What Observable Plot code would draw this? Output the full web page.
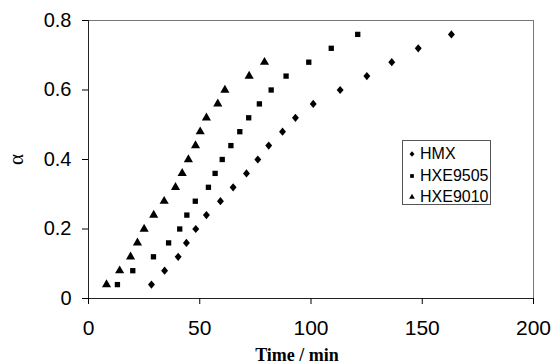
<!DOCTYPE html>
<html>
<head>
<meta charset="utf-8">
<script src="https://cdn.jsdelivr.net/npm/d3@7"></script>
<script src="https://cdn.jsdelivr.net/npm/@observablehq/plot@0.6"></script>
<style>
  html, body { margin: 0; padding: 0; background: #fff; }
  #chart { position: relative; width: 553px; height: 364px; }
  #legend {
    position: absolute; left: 402px; top: 140px; width: 89px; height: 65px;
    border: 1px solid #555; background: #fff; box-sizing: border-box;
    font-family: "Liberation Sans", Arial, sans-serif; font-size: 16px; color: #000;
  }
  #legend .row { position: absolute; left: 0; height: 20px; display: flex; align-items: center; }
  #legend svg { width: 14px; height: 20px; margin-left: 2px; }
</style>
</head>
<body>
<div id="chart"><div id="legend"></div></div>
<script>
// Conversion alpha versus time for the three explosives
const seriesNames = ["HMX", "HXE9505", "HXE9010"];

const hmxTime = [28.3, 34.2, 40.3, 44.0, 48.2, 53.0, 59.3, 65.0, 71.0, 76.1,
                 81.0, 87.2, 93.0, 101.0, 113.1, 125.1, 136.3, 148.2, 163.1];
const hmxAlpha = [0.04, 0.08, 0.12, 0.16, 0.20, 0.24, 0.28, 0.32, 0.36, 0.40,
                  0.44, 0.48, 0.52, 0.56, 0.60, 0.64, 0.68, 0.72, 0.76];

const hxe9505Time = [13.0, 19.9, 29.2, 36.0, 41.0, 44.2, 48.0, 53.9, 56.9, 60.1,
                     64.0, 68.0, 72.0, 76.8, 82.1, 88.8, 99.0, 109.1, 121.0];
const hxe9505Alpha = [0.04, 0.08, 0.12, 0.16, 0.20, 0.24, 0.28, 0.32, 0.36, 0.40,
                      0.44, 0.48, 0.52, 0.56, 0.60, 0.64, 0.68, 0.72, 0.76];

const hxe9010Time = [8.1, 14.0, 18.9, 22.0, 25.0, 29.3, 34.0, 39.1, 42.1, 44.9,
                     48.1, 50.2, 53.0, 58.1, 61.3, 72.2, 79.1];
const hxe9010Alpha = [0.04, 0.08, 0.12, 0.16, 0.20, 0.24, 0.28, 0.32, 0.36, 0.40,
                      0.44, 0.48, 0.52, 0.56, 0.60, 0.64, 0.68];

const xTicks = [0, 50, 100, 150, 200];
const yTicks = [0, 0.2, 0.4, 0.6, 0.8];
const xTitle = "Time / min";
const yTitle = "α";

const toRows = (times, alphas) => times.map((t, i) => ({time: t, alpha: alphas[i]}));
const seriesRows = [
  toRows(hmxTime, hmxAlpha),
  toRows(hxe9505Time, hxe9505Alpha),
  toRows(hxe9010Time, hxe9010Alpha)
];

// A diamond that is only slightly taller than it is wide
const diamond = {
  draw(context, size) {
    const h = Math.sqrt(size / 1.7);
    const w = h * 0.85;
    context.moveTo(0, -h);
    context.lineTo(w, 0);
    context.lineTo(0, h);
    context.lineTo(-w, 0);
    context.closePath();
  }
};
const symbols = [diamond, d3.symbolSquare, d3.symbolTriangle];
const radii = [3.0, 3.0, 3.4];

const sans = "'Liberation Sans', Arial, sans-serif";
const serif = "'Liberation Serif', 'Times New Roman', serif";

const chart = Plot.plot({
  width: 553,
  height: 364,
  marginLeft: 88,
  marginRight: 20,
  marginTop: 20,
  marginBottom: 66,
  x: {domain: [0, 200]},
  y: {domain: [0, 0.8]},
  style: {fontFamily: sans, background: "white", color: "black", overflow: "visible"},
  marks: [
    Plot.frame({stroke: "#777"}),
    Plot.ruleX([0], {stroke: "#222"}),
    Plot.ruleY([0], {stroke: "#222"}),
    Plot.axisY({
      ticks: yTicks, tickSize: 6, tickPadding: 11, fontSize: 20, label: null,
      tickFormat: d => d === 0 ? "0" : d.toFixed(1)
    }),
    // y title drawn as a rotated axis label in a serif face
    Plot.axisY({
      ticks: [], tickSize: 0, label: yTitle, labelAnchor: "center", labelArrow: "none",
      labelOffset: 80, fontFamily: serif, fontSize: 21
    }),
    Plot.axisX({
      ticks: xTicks, tickSize: 6, tickPadding: 16, fontSize: 21, label: null,
      tickFormat: d => String(d)
    }),
    ...seriesRows.map((rows, i) =>
      Plot.dot(rows, {x: "time", y: "alpha", symbol: symbols[i], r: radii[i], fill: "black", stroke: "none"})
    ),
    Plot.text([xTitle], {
      text: d => d, frameAnchor: "bottom", dy: 57, dx: -14, lineAnchor: "middle",
      fontFamily: serif, fontWeight: "bold", fontSize: 18
    })
  ]
});
document.getElementById("chart").prepend(chart);

// Legend box inside the plot area
const legend = d3.select("#legend");
seriesNames.forEach((name, i) => {
  const row = legend.append("div").attr("class", "row").style("top", `${3 + i * 21.5}px`);
  const s = row.append("svg").attr("viewBox", "-7 -10 14 20");
  s.append("path").attr("d", d3.symbol(symbols[i], 14)()).attr("fill", "black");
  row.append("span").text(name).style("margin-left", "1px");
});
</script>
</body>
</html>
